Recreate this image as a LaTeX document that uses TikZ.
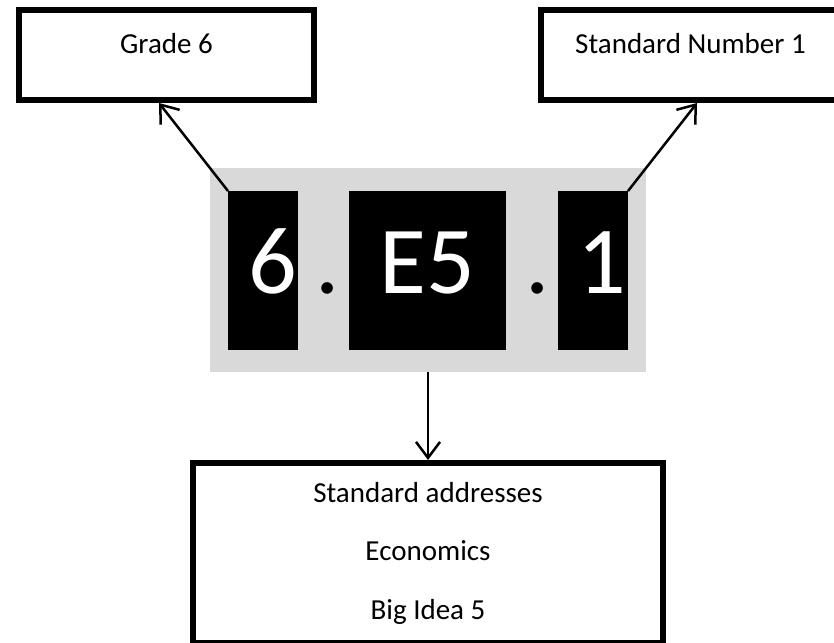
\documentclass[tikz,border=0pt]{standalone}
\usepackage{fontspec}
\setmainfont{Carlito}
\usepackage{xcolor}
\usepackage{tikz}
\usetikzlibrary{arrows.meta, calc}
\definecolor{panel}{HTML}{D9D9D9}

\tikzset{
    infobox/.style={draw, line width=6pt, fill=white, inner sep=0pt,
        font=\fontsize{29}{35}\selectfont},
    codebox/.style={fill=black, inner sep=0pt, outer sep=0pt, minimum height=159},
    digit/.style={text=white, inner sep=0pt, text height=62pt, text depth=0pt,
        font=\fontsize{96}{110}\selectfont},
    sep/.style={inner sep=0pt, font=\fontsize{96}{110}\selectfont},
    link/.style={line width=2.5pt, -{Straight Barb[length=16pt,width=24pt]}}
}

\begin{document}
\begin{tikzpicture}[x=1pt, y=-1pt]
    \useasboundingbox (0,0) rectangle (834,642);

    % the code 6.E5.1
    \node[fill=panel, inner sep=0pt, outer sep=0pt, minimum width=436, minimum height=204] (code) at (428,270) {};
    \node[codebox, minimum width=70, label={[digit, xshift=10pt, yshift=8.5pt]center:6}] (grade6) at (263,270.5) {};
    \node[codebox, minimum width=157, label={[digit, yshift=8.5pt]center:E5}] (idea) at (427.5,270.5) {};
    \node[codebox, minimum width=70, label={[digit, xshift=9pt, yshift=8.5pt]center:1}] (std1) at (593,270.5) {};
    \node[sep, anchor=base] (dotA) at (328,293) {.};
    \node[sep, anchor=base] (dotB) at (538,293) {.};

    % what each part means
    \node[infobox, minimum width=295, minimum height=90, text height=20pt, text depth=24pt] (grade) at (166.5,55) {Grade 6};
    \node[infobox, minimum width=299, minimum height=90, text height=20pt, text depth=24pt] (number) at (690.5,55) {Standard Number 1};
    \node[infobox, minimum width=470, minimum height=180, align=center,
        font=\fontsize{29}{58.5}\selectfont] (addr) at (428,553) {Standard addresses\\Economics\\Big Idea 5};

    \draw[link] (grade6.north west) -- ($(grade.south)+(-7.5,0)$);
    \draw[link] (std1.north east) -- ($(number.south)+(6.5,0)$);
    \draw[link] (code.south) -- (addr.north);
\end{tikzpicture}
\end{document}
